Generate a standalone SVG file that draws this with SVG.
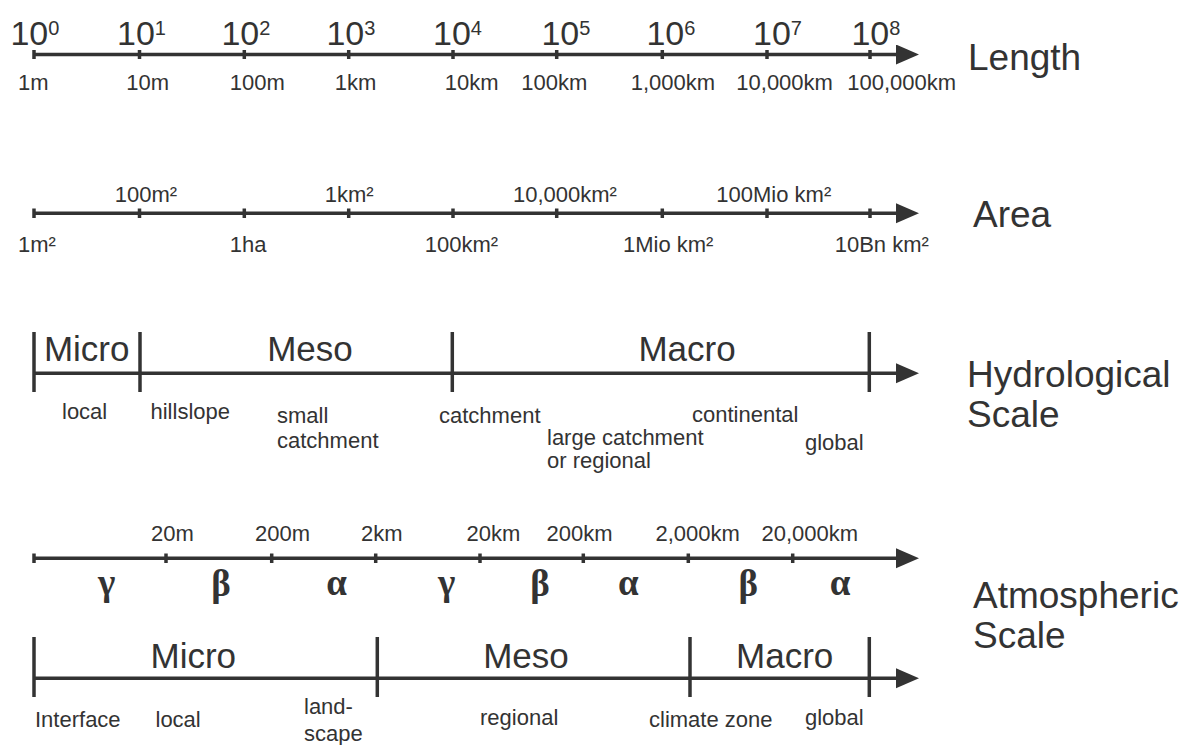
<svg xmlns="http://www.w3.org/2000/svg" width="1183" height="745" viewBox="0 0 1183 745">
  <style>
    text { font-family: "Liberation Sans", Arial, sans-serif; fill: #333; }
    .sm { font-size: 22px; }
    .big { font-size: 37px; }
    .sec { font-size: 35px; text-anchor: middle; }
    .pow { font-size: 34px; }
    .sup { font-size: 20px; }
    .greek { font-family: "Liberation Serif", "Times New Roman", serif; font-size: 37px; font-weight: bold; text-anchor: middle; }
    .axis { stroke: #333; stroke-width: 3.5; fill: none; }
    .tick { stroke: #333; stroke-width: 3.5; }
  </style>
  <defs>
    <marker id="head" markerUnits="userSpaceOnUse" markerWidth="24" markerHeight="22" refX="0" refY="10" orient="auto">
      <polygon points="0,0 23,10 0,20" fill="#333"/>
    </marker>
  </defs>
  <rect width="1183" height="745" fill="#fff"/>

  <!-- Length axis -->
  <g id="length">
    <line class="axis" x1="34" y1="54.5" x2="896" y2="54.5" marker-end="url(#head)"/>
    <g class="tick">
      <line x1="34" y1="50" x2="34" y2="59"/>
      <line x1="139.5" y1="50" x2="139.5" y2="59"/>
      <line x1="244.3" y1="50" x2="244.3" y2="59"/>
      <line x1="348.7" y1="50" x2="348.7" y2="59"/>
      <line x1="453" y1="50" x2="453" y2="59"/>
      <line x1="556.7" y1="50" x2="556.7" y2="59"/>
      <line x1="662.3" y1="50" x2="662.3" y2="59"/>
      <line x1="767" y1="50" x2="767" y2="59"/>
      <line x1="870" y1="50" x2="870" y2="59"/>
    </g>
    <text class="pow" x="10.4" y="45">10<tspan class="sup" dy="-10">0</tspan></text>
    <text class="pow" x="117" y="45">10<tspan class="sup" dy="-10">1</tspan></text>
    <text class="pow" x="221.4" y="45">10<tspan class="sup" dy="-10">2</tspan></text>
    <text class="pow" x="326.4" y="45">10<tspan class="sup" dy="-10">3</tspan></text>
    <text class="pow" x="433" y="45">10<tspan class="sup" dy="-10">4</tspan></text>
    <text class="pow" x="541.4" y="45">10<tspan class="sup" dy="-10">5</tspan></text>
    <text class="pow" x="646.4" y="45">10<tspan class="sup" dy="-10">6</tspan></text>
    <text class="pow" x="753" y="45">10<tspan class="sup" dy="-10">7</tspan></text>
    <text class="pow" x="851.4" y="45">10<tspan class="sup" dy="-10">8</tspan></text>
    <text class="sm" x="18" y="90">1m</text>
    <text class="sm" x="126.3" y="90">10m</text>
    <text class="sm" x="229.7" y="90">100m</text>
    <text class="sm" x="334.7" y="90">1km</text>
    <text class="sm" x="444.7" y="90">10km</text>
    <text class="sm" x="521.3" y="90">100km</text>
    <text class="sm" x="630.7" y="90">1,000km</text>
    <text class="sm" x="736.3" y="90">10,000km</text>
    <text class="sm" x="847.3" y="90">100,000km</text>
    <text class="big" x="968" y="70">Length</text>
  </g>

  <!-- Area axis -->
  <g id="area">
    <line class="axis" x1="34" y1="213.3" x2="896" y2="213.3" marker-end="url(#head)"/>
    <g class="tick">
      <line x1="34" y1="208.5" x2="34" y2="218"/>
      <line x1="139.5" y1="208.5" x2="139.5" y2="218"/>
      <line x1="244.3" y1="208.5" x2="244.3" y2="218"/>
      <line x1="348.7" y1="208.5" x2="348.7" y2="218"/>
      <line x1="453" y1="208.5" x2="453" y2="218"/>
      <line x1="556.7" y1="208.5" x2="556.7" y2="218"/>
      <line x1="662.3" y1="208.5" x2="662.3" y2="218"/>
      <line x1="767" y1="208.5" x2="767" y2="218"/>
      <line x1="870" y1="208.5" x2="870" y2="218"/>
    </g>
    <text class="sm" x="114.7" y="201.7">100m²</text>
    <text class="sm" x="324.7" y="201.7">1km²</text>
    <text class="sm" x="513" y="201.7">10,000km²</text>
    <text class="sm" x="716.3" y="201.7">100Mio km²</text>
    <text class="sm" x="18" y="251.7">1m²</text>
    <text class="sm" x="229.7" y="251.7">1ha</text>
    <text class="sm" x="424.7" y="251.7">100km²</text>
    <text class="sm" x="623" y="251.7">1Mio km²</text>
    <text class="sm" x="834.7" y="251.7">10Bn km²</text>
    <text class="big" x="973" y="227">Area</text>
  </g>

  <!-- Hydrological scale -->
  <g id="hydrological">
    <line class="axis" x1="34" y1="373.3" x2="896" y2="373.3" marker-end="url(#head)"/>
    <g class="tick">
      <line x1="34" y1="332" x2="34" y2="392"/>
      <line x1="140" y1="332" x2="140" y2="392"/>
      <line x1="452.3" y1="332" x2="452.3" y2="392"/>
      <line x1="869.3" y1="332" x2="869.3" y2="392"/>
    </g>
    <text class="sec" x="86.7" y="360.7">Micro</text>
    <text class="sec" x="310" y="360.7">Meso</text>
    <text class="sec" x="687" y="360.7">Macro</text>
    <text class="sm" x="62" y="419.3">local</text>
    <text class="sm" x="150.5" y="419.3">hillslope</text>
    <text class="sm" x="277" y="422.7">small</text>
    <text class="sm" x="277" y="447.7">catchment</text>
    <text class="sm" x="439" y="423">catchment</text>
    <text class="sm" x="547" y="445">large catchment</text>
    <text class="sm" x="547" y="468.3">or regional</text>
    <text class="sm" x="692" y="421.7">continental</text>
    <text class="sm" x="805" y="450">global</text>
    <text class="big" x="967" y="387">Hydrological</text>
    <text class="big" x="967" y="427">Scale</text>
  </g>

  <!-- Atmospheric scale: sub-ranges -->
  <g id="atmospheric-ranges">
    <line class="axis" x1="34" y1="558.3" x2="896" y2="558.3" marker-end="url(#head)"/>
    <g class="tick">
      <line x1="34" y1="553.5" x2="34" y2="563"/>
      <line x1="166" y1="553.5" x2="166" y2="563"/>
      <line x1="271.7" y1="553.5" x2="271.7" y2="563"/>
      <line x1="375.7" y1="553.5" x2="375.7" y2="563"/>
      <line x1="480" y1="553.5" x2="480" y2="563"/>
      <line x1="583.3" y1="553.5" x2="583.3" y2="563"/>
      <line x1="688.3" y1="553.5" x2="688.3" y2="563"/>
      <line x1="792.7" y1="553.5" x2="792.7" y2="563"/>
    </g>
    <text class="sm" x="151" y="541">20m</text>
    <text class="sm" x="255" y="541">200m</text>
    <text class="sm" x="361" y="541">2km</text>
    <text class="sm" x="466.5" y="541">20km</text>
    <text class="sm" x="546.5" y="541">200km</text>
    <text class="sm" x="655.5" y="541">2,000km</text>
    <text class="sm" x="761.5" y="541">20,000km</text>
    <text class="greek" x="106.7" y="595">γ</text>
    <text class="greek" x="221" y="596">β</text>
    <text class="greek" x="336.7" y="595">α</text>
    <text class="greek" x="446.7" y="595">γ</text>
    <text class="greek" x="540" y="596">β</text>
    <text class="greek" x="628.3" y="595">α</text>
    <text class="greek" x="748.3" y="596">β</text>
    <text class="greek" x="840" y="595">α</text>
  </g>

  <!-- Atmospheric scale: classes -->
  <g id="atmospheric-classes">
    <line class="axis" x1="34" y1="678.3" x2="896" y2="678.3" marker-end="url(#head)"/>
    <g class="tick">
      <line x1="34" y1="637" x2="34" y2="697"/>
      <line x1="377.3" y1="637" x2="377.3" y2="697"/>
      <line x1="690" y1="637" x2="690" y2="697"/>
      <line x1="869.3" y1="637" x2="869.3" y2="697"/>
    </g>
    <text class="sec" x="193.3" y="668.3">Micro</text>
    <text class="sec" x="526" y="668.3">Meso</text>
    <text class="sec" x="784.7" y="668.3">Macro</text>
    <text class="sm" x="35" y="726.7">Interface</text>
    <text class="sm" x="155.5" y="726.7">local</text>
    <text class="sm" x="304" y="714.3">land-</text>
    <text class="sm" x="304" y="741">scape</text>
    <text class="sm" x="480" y="725">regional</text>
    <text class="sm" x="649" y="726.7">climate zone</text>
    <text class="sm" x="805" y="725">global</text>
    <text class="big" x="973" y="608">Atmospheric</text>
    <text class="big" x="973" y="648">Scale</text>
  </g>
</svg>
